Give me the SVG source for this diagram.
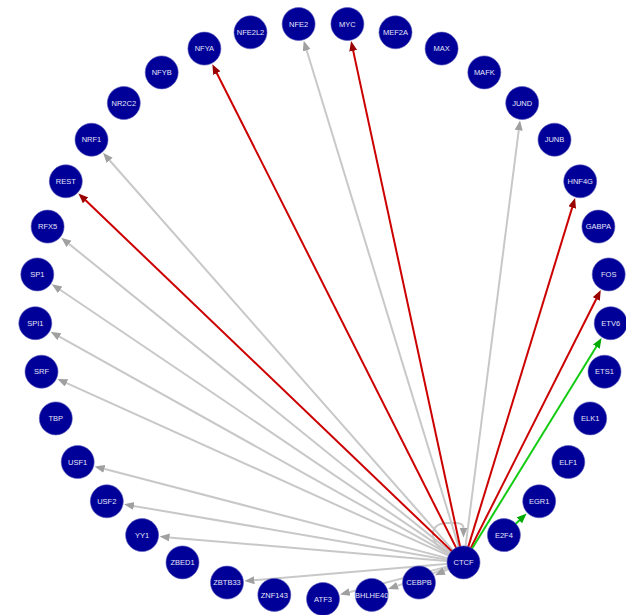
<svg xmlns="http://www.w3.org/2000/svg" width="626" height="615" viewBox="0 0 626 615">
<defs>
<style>
.e{fill:none;stroke-width:2}
.g{stroke:#c8c8c8}
.r{stroke:#cc0000}
.gr{stroke:#11cc11}
.n circle{fill:#000099;stroke:#5a5ab8;stroke-width:0.6}
.n text{fill:#e4e4f8;font-family:"Liberation Sans",Arial,sans-serif;font-size:7.5px;text-anchor:middle}
</style>
<marker id="ag" markerUnits="userSpaceOnUse" markerWidth="12" markerHeight="9" refX="0.5" refY="4" orient="auto"><path d="M0,0 L10,4 L0,8 z" fill="#a0a0a0"/></marker>
<marker id="ar" markerUnits="userSpaceOnUse" markerWidth="12" markerHeight="9" refX="0.5" refY="4" orient="auto"><path d="M0,0 L10,4 L0,8 z" fill="#990000"/></marker>
<marker id="agr" markerUnits="userSpaceOnUse" markerWidth="12" markerHeight="9" refX="0.5" refY="4" orient="auto"><path d="M0,0 L10,4 L0,8 z" fill="#00aa00"/></marker>
</defs>
<rect width="626" height="615" fill="#ffffff"/>
<g id="edges">
<line class="e g" x1="463.5" y1="562.4" x2="306.5" y2="49.8" marker-end="url(#ag)"/>
<line class="e g" x1="463.5" y1="562.4" x2="518.8" y2="129.8" marker-end="url(#ag)"/>
<line class="e g" x1="463.5" y1="562.4" x2="109.3" y2="160.0" marker-end="url(#ag)"/>
<line class="e g" x1="463.5" y1="562.4" x2="68.6" y2="243.6" marker-end="url(#ag)"/>
<line class="e g" x1="463.5" y1="562.4" x2="59.7" y2="289.5" marker-end="url(#ag)"/>
<line class="e g" x1="463.5" y1="562.4" x2="58.9" y2="336.4" marker-end="url(#ag)"/>
<line class="e g" x1="463.5" y1="562.4" x2="66.1" y2="382.8" marker-end="url(#ag)"/>
<line class="e g" x1="463.5" y1="562.4" x2="103.8" y2="468.8" marker-end="url(#ag)"/>
<line class="e g" x1="463.5" y1="562.4" x2="133.4" y2="505.9" marker-end="url(#ag)"/>
<line class="e g" x1="463.5" y1="562.4" x2="169.0" y2="537.4" marker-end="url(#ag)"/>
<line class="e g" x1="463.5" y1="562.4" x2="253.9" y2="580.3" marker-end="url(#ag)"/>
<line class="e g" x1="463.5" y1="562.4" x2="349.1" y2="592.2" marker-end="url(#ag)"/>
<line class="e g" x1="463.5" y1="562.4" x2="397.1" y2="585.9" marker-end="url(#ag)"/>
<line class="e g" x1="463.5" y1="562.4" x2="443.6" y2="571.4" marker-end="url(#ag)"/>
<path class="e g" d="M455,556 C428,548 426,523 447,523 L456,523 Q463.5,523 463.5,528" marker-end="url(#ag)"/>
<line class="e r" x1="463.5" y1="562.4" x2="353.1" y2="50.4" marker-end="url(#ar)"/>
<line class="e r" x1="463.5" y1="562.4" x2="216.6" y2="72.7" marker-end="url(#ar)"/>
<line class="e r" x1="463.5" y1="562.4" x2="85.3" y2="200.0" marker-end="url(#ar)"/>
<line class="e r" x1="463.5" y1="562.4" x2="572.3" y2="207.1" marker-end="url(#ar)"/>
<line class="e r" x1="463.5" y1="562.4" x2="596.5" y2="298.5" marker-end="url(#ar)"/>
<line class="e gr" x1="463.5" y1="562.4" x2="596.6" y2="346.2" marker-end="url(#agr)"/>
<line class="e gr" x1="503.9" y1="535.1" x2="519.7" y2="520.0" marker-end="url(#agr)"/>
</g>
<g id="n-ATF3" class="n"><circle cx="323" cy="599" r="16.5"/><text x="323" y="601.7">ATF3</text></g>
<g id="n-BHLHE40" class="n"><circle cx="371.7" cy="594.9" r="16.5"/><text x="371.7" y="597.6">BHLHE40</text></g>
<g id="n-CEBPB" class="n"><circle cx="419" cy="582.6" r="16.5"/><text x="419" y="585.3">CEBPB</text></g>
<g id="n-CTCF" class="n"><circle cx="463.5" cy="562.4" r="16.5"/><text x="463.5" y="565.1">CTCF</text></g>
<g id="n-E2F4" class="n"><circle cx="503.9" cy="535.1" r="16.5"/><text x="503.9" y="537.8">E2F4</text></g>
<g id="n-EGR1" class="n"><circle cx="539.2" cy="501.3" r="16.5"/><text x="539.2" y="504">EGR1</text></g>
<g id="n-ELF1" class="n"><circle cx="568.3" cy="462" r="16.5"/><text x="568.3" y="464.7">ELF1</text></g>
<g id="n-ELK1" class="n"><circle cx="590.2" cy="418.4" r="16.5"/><text x="590.2" y="421.1">ELK1</text></g>
<g id="n-ETS1" class="n"><circle cx="604.5" cy="371.7" r="16.5"/><text x="604.5" y="374.4">ETS1</text></g>
<g id="n-ETV6" class="n"><circle cx="610.7" cy="323.2" r="16.5"/><text x="610.7" y="325.9">ETV6</text></g>
<g id="n-FOS" class="n"><circle cx="608.7" cy="274.4" r="16.5"/><text x="608.7" y="277.1">FOS</text></g>
<g id="n-GABPA" class="n"><circle cx="598.4" cy="226.6" r="16.5"/><text x="598.4" y="229.3">GABPA</text></g>
<g id="n-HNF4G" class="n"><circle cx="580.2" cy="181.3" r="16.5"/><text x="580.2" y="184">HNF4G</text></g>
<g id="n-JUNB" class="n"><circle cx="554.5" cy="139.7" r="16.5"/><text x="554.5" y="142.4">JUNB</text></g>
<g id="n-JUND" class="n"><circle cx="522.2" cy="103" r="16.5"/><text x="522.2" y="105.7">JUND</text></g>
<g id="n-MAFK" class="n"><circle cx="484.3" cy="72.4" r="16.5"/><text x="484.3" y="75.1">MAFK</text></g>
<g id="n-MAX" class="n"><circle cx="441.6" cy="48.6" r="16.5"/><text x="441.6" y="51.3">MAX</text></g>
<g id="n-MEF2A" class="n"><circle cx="395.5" cy="32.3" r="16.5"/><text x="395.5" y="35">MEF2A</text></g>
<g id="n-MYC" class="n"><circle cx="347.4" cy="24" r="16.5"/><text x="347.4" y="26.7">MYC</text></g>
<g id="n-NFE2" class="n"><circle cx="298.6" cy="24" r="16.5"/><text x="298.6" y="26.7">NFE2</text></g>
<g id="n-NFE2L2" class="n"><circle cx="250.5" cy="32.3" r="16.5"/><text x="250.5" y="35">NFE2L2</text></g>
<g id="n-NFYA" class="n"><circle cx="204.4" cy="48.6" r="16.5"/><text x="204.4" y="51.3">NFYA</text></g>
<g id="n-NFYB" class="n"><circle cx="161.7" cy="72.4" r="16.5"/><text x="161.7" y="75.1">NFYB</text></g>
<g id="n-NR2C2" class="n"><circle cx="123.8" cy="103" r="16.5"/><text x="123.8" y="105.7">NR2C2</text></g>
<g id="n-NRF1" class="n"><circle cx="91.5" cy="139.7" r="16.5"/><text x="91.5" y="142.4">NRF1</text></g>
<g id="n-REST" class="n"><circle cx="65.8" cy="181.3" r="16.5"/><text x="65.8" y="184">REST</text></g>
<g id="n-RFX5" class="n"><circle cx="47.6" cy="226.6" r="16.5"/><text x="47.6" y="229.3">RFX5</text></g>
<g id="n-SP1" class="n"><circle cx="37.3" cy="274.4" r="16.5"/><text x="37.3" y="277.1">SP1</text></g>
<g id="n-SPI1" class="n"><circle cx="35.3" cy="323.2" r="16.5"/><text x="35.3" y="325.9">SPI1</text></g>
<g id="n-SRF" class="n"><circle cx="41.5" cy="371.7" r="16.5"/><text x="41.5" y="374.4">SRF</text></g>
<g id="n-TBP" class="n"><circle cx="55.8" cy="418.4" r="16.5"/><text x="55.8" y="421.1">TBP</text></g>
<g id="n-USF1" class="n"><circle cx="77.7" cy="462" r="16.5"/><text x="77.7" y="464.7">USF1</text></g>
<g id="n-USF2" class="n"><circle cx="106.8" cy="501.3" r="16.5"/><text x="106.8" y="504">USF2</text></g>
<g id="n-YY1" class="n"><circle cx="142.1" cy="535.1" r="16.5"/><text x="142.1" y="537.8">YY1</text></g>
<g id="n-ZBED1" class="n"><circle cx="182.5" cy="562.4" r="16.5"/><text x="182.5" y="565.1">ZBED1</text></g>
<g id="n-ZBTB33" class="n"><circle cx="227" cy="582.6" r="16.5"/><text x="227" y="585.3">ZBTB33</text></g>
<g id="n-ZNF143" class="n"><circle cx="274.3" cy="594.9" r="16.5"/><text x="274.3" y="597.6">ZNF143</text></g>
</svg>
